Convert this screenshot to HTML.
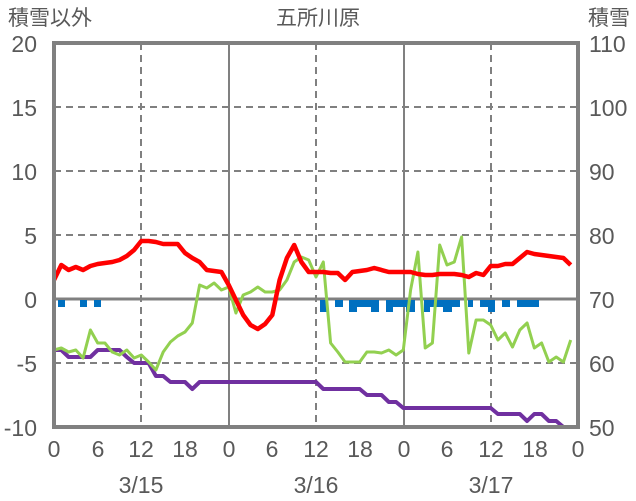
<!DOCTYPE html>
<html><head><meta charset="utf-8"><style>
html,body{margin:0;padding:0;background:#fff;width:636px;height:501px;overflow:hidden}
svg text{font-family:"Liberation Sans","Noto Sans CJK JP",sans-serif;fill:#595959}
</style></head><body>
<svg id="s" width="636" height="501" viewBox="0 0 636 501" xmlns="http://www.w3.org/2000/svg">
<g stroke="#808080" stroke-width="2" stroke-dasharray="7,5">
<line x1="54" y1="107" x2="578" y2="107"/><line x1="54" y1="171" x2="578" y2="171"/>
<line x1="54" y1="235" x2="578" y2="235"/><line x1="54" y1="363" x2="578" y2="363"/>
<line x1="141" y1="43" x2="141" y2="427"/><line x1="316" y1="43" x2="316" y2="427"/><line x1="491" y1="43" x2="491" y2="427"/>
</g>
<g stroke="#808080" stroke-width="2">
<line x1="229" y1="43" x2="229" y2="427"/><line x1="404" y1="43" x2="404" y2="427"/>
<line x1="54" y1="299" x2="578" y2="299" stroke-width="3"/>
</g>
<g id="bars" fill="#0070C0"></g>
<g id="lines" fill="none" stroke-width="4" stroke-linejoin="round"></g>
<rect x="54" y="43" width="524" height="384" fill="none" stroke="#808080" stroke-width="4"/>
<g font-size="21">
<text x="8" y="25">積雪以外</text>
<text x="318" y="25" text-anchor="middle">五所川原</text>
<text x="588" y="25">積雪</text>
</g>
<g font-size="23" text-anchor="end">
<text x="37" y="52">20</text><text x="37" y="116">15</text><text x="37" y="180">10</text>
<text x="37" y="244">5</text><text x="37" y="308">0</text><text x="37" y="372">-5</text><text x="37" y="436">-10</text>
</g>
<g font-size="23">
<text x="589" y="52">110</text><text x="589" y="116">100</text><text x="589" y="180">90</text>
<text x="589" y="244">80</text><text x="589" y="308">70</text><text x="589" y="372">60</text><text x="589" y="436">50</text>
</g>
<g font-size="23" text-anchor="middle">
<text x="54" y="457">0</text><text x="98" y="457">6</text><text x="141" y="457">12</text><text x="185" y="457">18</text>
<text x="229" y="457">0</text><text x="272" y="457">6</text><text x="316" y="457">12</text><text x="360" y="457">18</text>
<text x="404" y="457">0</text><text x="447" y="457">6</text><text x="491" y="457">12</text><text x="535" y="457">18</text>
<text x="578" y="457">0</text>
<text x="141" y="493">3/15</text><text x="316" y="493">3/16</text><text x="491" y="493">3/17</text>
</g>
</svg>
<script>
var X=function(h){return 54+h*524/72;};
var red=[280,265,270,267,270,266,264,263,262,260,256,250,241,241,242,244,244,244,253,258,262,270,271,272,285,300,315,325,329,324,315,280,258,245,262,272,272,272,273,273,280,272,271,270,268,270,272,272,272,272,274,275,275,274,274,274,275,277,273,275,266,266,264,264,258,252,254,255,256,257,258,265];
var green=[350,348,352,350,358,330,343,343,352,355,350,358,355,362,370,352,342,336,332,323,285,288,283,290,287,313,295,292,287,292,292,290,280,262,257,260,277,262,343,352,362,362,362,352,352,353,350,355,350,290,252,348,343,245,265,262,237,353,320,320,325,340,333,347,330,323,348,343,362,357,362,340];
var pv={0:350,1:350,2:357,5:357,6:350,9:350,10:357,11:363,13:363,14:376,15:376,16:382,18:382,19:389,20:382,36:382,37:389,42:389,43:395,45:395,46:402,47:402,48:408,60:408,61:414,64:414,65:421,66:414,67:414,68:421,69:421,70:427,71:427};
function pts(a){return a.map(function(y,i){return X(i).toFixed(1)+','+y;}).join(' ');}
var pp=[];var last=350;for(var h=0;h<72;h++){if(pv[h]!==undefined)last=pv[h];pp.push(X(h).toFixed(1)+','+last);}
var L=document.getElementById('lines');
L.innerHTML='<polyline stroke="#7030A0" points="'+pp.join(' ')+'"/>'+
'<polyline stroke="#92D050" stroke-width="3" points="'+pts(green)+'"/>'+
'<polyline stroke="#FF0000" stroke-width="4.5" points="'+pts(red)+'"/>';
var bars=[[58,65,0],[80,87,0],[94,101,0],[320,327,1],[335,343,0],[349,357,1],[357,371,0],[371,379,1],[386,393,1],[393,406,0],[406,415,1],[424,430,1],[430,443,0],[443,452,1],[452,460,0],[468,473,0],[480,488,0],[488,495,1],[502,510,0],[517,539,0]];
var B='';bars.forEach(function(b){B+='<rect x="'+b[0]+'" y="300" width="'+(b[1]-b[0])+'" height="'+(b[2]?12:7)+'"/>';});
document.getElementById('bars').innerHTML=B;
</script>
</body></html>
